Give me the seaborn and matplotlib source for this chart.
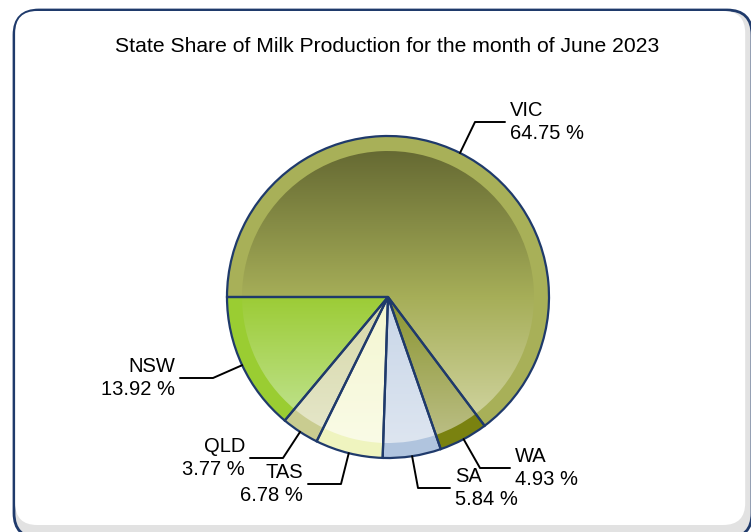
import numpy as np
import matplotlib
matplotlib.use("Agg")
import matplotlib.pyplot as plt
from matplotlib.patches import FancyBboxPatch
import seaborn as sns

# data
states = ["NSW", "QLD", "TAS", "SA", "WA", "VIC"]
shares = [13.92, 3.77, 6.78, 5.84, 4.93, 64.75]
title = "State Share of Milk Production for the month of June 2023"

# styling: rim colour, and inner gradient (top of circle, centre, bottom)
rim_colors = ["#9acd32", "#c9cc90", "#eff4bf", "#b0c4de", "#7a8210", "#a8b058"]
grad_top = ["#7fa828", "#b8ba88", "#e4e8b8", "#a8b8d0", "#6a7220", "#666a33"]
grad_mid = ["#9ccc36", "#d6d8a8", "#f3f6d0", "#c8d6e8", "#8a9430", "#a6ae58"]
grad_bot = ["#c6e69e", "#e6e7cb", "#fafbe6", "#dde5f0", "#bdc088", "#d7daab"]
edge = "#1f3a6b"

# label layout in pixels: elbow point, end of the horizontal leader, side
label_layout = {
    "VIC": ((475, 122), (505, 122), "left"),
    "NSW": ((213, 378), (180, 378), "right"),
    "QLD": ((283, 458), (250, 458), "right"),
    "TAS": ((341, 484), (308, 484), "right"),
    "SA": ((418, 488), (450, 488), "left"),
    "WA": ((480, 468), (510, 468), "left"),
}

W, H = 751, 532
cx, cy, R = 388, 297, 161
r_in = 146

sns.set_style("white")
plt.rcParams["font.family"] = ["Liberation Sans", "DejaVu Sans"]
plt.rcParams["text.color"] = "black"

fig = plt.figure(figsize=(W / 100, H / 100), dpi=100)
ax = fig.add_axes([0, 0, 1, 1])

# frame with a soft shadow on the right / bottom
ax.add_patch(FancyBboxPatch((14, 10), 738, 528, boxstyle="round,pad=0,rounding_size=25",
                            facecolor="#e2e2e2", edgecolor=edge, linewidth=2, zorder=0))
ax.add_patch(FancyBboxPatch((15.2, 11), 730, 514, boxstyle="round,pad=0,rounding_size=22",
                            facecolor="white", edgecolor="none", zorder=0.5))

# outer (rim) pie
outer, _ = ax.pie(shares, colors=rim_colors, startangle=180, counterclock=False,
                  radius=R, center=(cx, cy), frame=True,
                  wedgeprops=dict(linewidth=0, zorder=1))

# inner pie filled with vertical gradients over the whole inner circle
inner, _ = ax.pie(shares, colors=["none"] * len(shares), startangle=180, counterclock=False,
                  radius=r_in, center=(cx, cy), frame=True,
                  wedgeprops=dict(linewidth=0, zorder=2))
grad = np.linspace(0, 1, 256)[:, None]
for w, c0, c1, c2 in zip(inner, grad_top, grad_mid, grad_bot):
    cmap = sns.blend_palette([c0, c1, c2], n_colors=256, as_cmap=True)
    im = ax.imshow(grad, cmap=cmap, aspect="auto", origin="upper", zorder=2,
                   extent=(cx - r_in, cx + r_in, cy + r_in, cy - r_in),
                   interpolation="bilinear")
    im.set_clip_path(w)

# slice outlines on top
lines, _ = ax.pie(shares, colors=["none"] * len(shares), startangle=180, counterclock=False,
                  radius=R, center=(cx, cy), frame=True,
                  wedgeprops=dict(linewidth=1.6, edgecolor=edge, facecolor="none", zorder=3))

# leader lines and labels
for w, name, val in zip(lines, states, shares):
    mid = np.deg2rad((w.theta1 + w.theta2) / 2)
    ax_pt = (cx + R * np.cos(mid), cy + R * np.sin(mid))
    (ex, ey), (tx, ty), side = label_layout[name]
    ax.plot([ax_pt[0], ex, tx], [ax_pt[1], ey, ty], color="black", linewidth=1.4, zorder=4)
    dx = 5 if side == "left" else -5
    ax.text(tx + dx, ty, f"{name}\n{val:.2f} %", ha=side, va="center", fontsize=14.5,
            linespacing=1.3, multialignment=side, color="black", zorder=5)

ax.text(387, 47, title, ha="center", va="center", fontsize=15.2, color="black")

ax.set_xlim(0, W)
ax.set_ylim(H, 0)
ax.set_aspect("auto")
ax.axis("off")

fig.savefig("out.png", dpi=100)
